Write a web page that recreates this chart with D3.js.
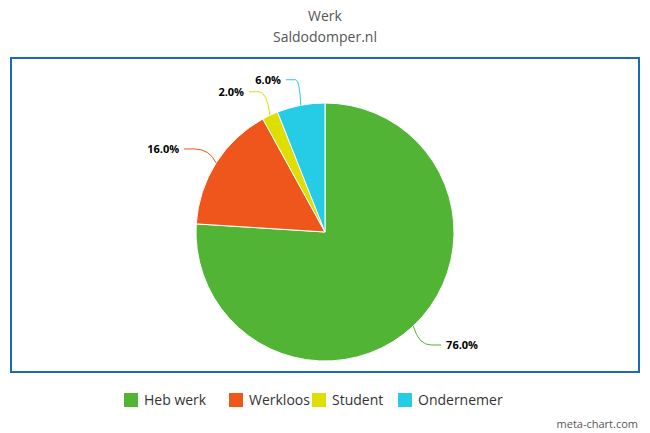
<!DOCTYPE html>
<html><head><meta charset="utf-8">
<script src="https://cdn.jsdelivr.net/npm/d3@7"></script>
<style>body{margin:0;background:#fff}text{font-family:"Open Sans",sans-serif}</style>
</head><body>
<script>
var categories = ["Heb werk", "Werkloos", "Student", "Ondernemer"];
var values = [76, 16, 2, 6];
var colors = ["#52b434", "#ee561c", "#dede00", "#26cce6"];

var svg = d3.select("body").append("svg").attr("width", 650).attr("height", 433);

svg.append("text").attr("x", 325).attr("y", 21).attr("text-anchor", "middle")
  .attr("font-size", 14).attr("fill", "#555").text("Werk");
svg.append("text").attr("x", 325).attr("y", 42).attr("text-anchor", "middle")
  .attr("font-size", 14).attr("fill", "#555").text("Saldodomper.nl");

svg.append("rect").attr("x", 11).attr("y", 58).attr("width", 628).attr("height", 314)
  .attr("fill", "none").attr("stroke", "#1a6ab8").attr("stroke-width", 2);

var cx = 325, cy = 232, r = 129;
var pie = d3.pie().sort(null).value(function(d){ return d; });
var arcs = pie(values);
var arc = d3.arc().innerRadius(0).outerRadius(r);
var g = svg.append("g").attr("transform", "translate(" + cx + "," + cy + ")");

g.selectAll("path").data(arcs).enter().append("path")
  .attr("d", arc).attr("fill", function(d, i){ return colors[i]; })
  .attr("stroke", "#fff").attr("stroke-width", 1);

var total = d3.sum(values);
arcs.forEach(function(d, i) {
  var a = (d.startAngle + d.endAngle) / 2;
  var p0 = [Math.sin(a) * r, -Math.cos(a) * r];
  var p1 = [Math.sin(a) * (r + 26), -Math.cos(a) * (r + 26)];
  var side = Math.sin(a) >= 0 ? 1 : -1;
  var p2 = [p1[0] + side * 10, p1[1]];
  g.append("path")
    .attr("d", "M" + p0 + "Q" + [p0[0] + (p1[0]-p0[0])*0.3, p1[1]] + " " + p1 + "L" + p2)
    .attr("fill", "none").attr("stroke", colors[i]).attr("stroke-width", 1);
  g.append("text").attr("x", p2[0] + side * 5).attr("y", p2[1] + 4)
    .attr("text-anchor", side > 0 ? "start" : "end")
    .attr("font-size", 11).attr("font-weight", "bold").attr("fill", "#000")
    .text((values[i] / total * 100).toFixed(1) + "%");
});

var legendX = [124, 229, 312, 398];
var lg = svg.append("g");
categories.forEach(function(c, i) {
  lg.append("rect").attr("x", legendX[i]).attr("y", 393).attr("width", 14).attr("height", 14)
    .attr("fill", colors[i]);
  lg.append("text").attr("x", legendX[i] + 20).attr("y", 405)
    .attr("font-size", 14).attr("fill", "#333").text(c);
});

svg.append("text").attr("x", 638).attr("y", 428).attr("text-anchor", "end")
  .attr("font-size", 11).attr("fill", "#555").text("meta-chart.com");
</script>
</body></html>
